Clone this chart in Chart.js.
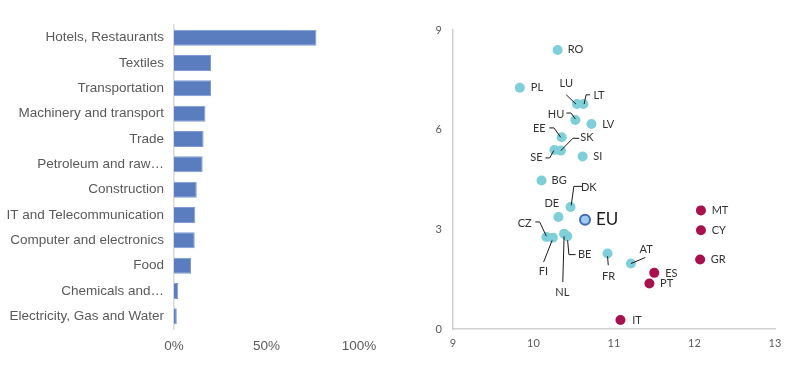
<!DOCTYPE html>
<html>
<head>
<meta charset="utf-8">
<script src="https://cdn.jsdelivr.net/npm/chart.js@4/dist/chart.umd.min.js"></script>
<style>
  html, body { margin: 0; padding: 0; background: #ffffff; }
  #wrap { position: relative; width: 800px; height: 392px; }
  #left { position: absolute; left: 0; top: 0; width: 400px; height: 392px; }
  #right { position: absolute; left: 400px; top: 0; width: 400px; height: 392px; }
</style>
</head>
<body>
<div id="wrap">
  <div id="left"><canvas id="barChart" width="400" height="392"></canvas></div>
  <div id="right"><canvas id="scatterChart" width="400" height="392"></canvas></div>
</div>
<script>
// ---------- Data: left bar chart ----------
const sectors = [
  "Hotels, Restaurants", "Textiles", "Transportation", "Machinery and transport",
  "Trade", "Petroleum and raw\u2026", "Construction", "IT and Telecommunication",
  "Computer and electronics", "Food", "Chemicals and\u2026", "Electricity, Gas and Water"
];
const sectorShares = [77, 20, 20, 17, 16, 15.5, 12.3, 11.5, 11.2, 9.2, 2.3, 1.5];
const barTicks = [0, 50, 100];

// ---------- Data: right scatter chart ----------
const tealCodes = ["RO", "PL", "LU", "LT", "HU", "LV", "EE", "SK", "SE", "SI", "BG", "DK", "DE", "CZ", "FI", "NL", "BE", "FR", "AT"];
const tealX = [10.30, 9.83, 10.54, 10.62, 10.52, 10.72, 10.35, 10.34, 10.26, 10.61, 10.10, 10.46, 10.31, 10.16, 10.24, 10.38, 10.42, 10.92, 11.21];
const tealY = [8.40, 7.26, 6.77, 6.77, 6.29, 6.17, 5.77, 5.37, 5.39, 5.19, 4.47, 3.67, 3.37, 2.77, 2.75, 2.87, 2.79, 2.27, 1.97];

const redCodes = ["ES", "PT", "IT", "MT", "CY", "GR"];
const redX = [11.50, 11.44, 11.08, 12.08, 12.08, 12.07];
const redY = [1.69, 1.37, 0.27, 3.57, 2.97, 2.09];

const euCodes = ["EU"];
const euX = [10.64];
const euY = [3.29];

const scatterXTicks = [9, 10, 11, 12, 13];
const scatterYTicks = [0, 3, 6, 9];

// ---------- Label layout (pixel offsets from the point; layout only) ----------
const labelLayout = {
  RO: { dx: 10, dy: 0, align: "left" },
  PL: { dx: 11, dy: 0, align: "left" },
  LU: { dx: -10.7, dy: -20.6, align: "center", leader: [[-10.7, -9.3], [-1, 0]] },
  LT: { dx: 10, dy: -8.3, align: "left", leader: [[6.7, -9.3], [2.7, -9.3], [0.7, 0]] },
  HU: { dx: -19.3, dy: -6, align: "center", leader: [[-9, -7], [-4.3, -7], [0, -1]] },
  LV: { dx: 10.7, dy: 0, align: "left" },
  EE: { dx: -22.4, dy: -8.4, align: "center", leader: [[-12.4, -9.4], [-7.7, -9.4], [-1, 0]] },
  SK: { dx: 19.3, dy: -12.7, align: "left", leader: [[18.3, -12.3], [12, -12.3], [0, 0]] },
  SE: { dx: -18, dy: 8, align: "center", leader: [[-9, 8], [-4.7, 8], [-0.7, 0.7]] },
  SI: { dx: 10.6, dy: 0, align: "left" },
  BG: { dx: 10, dy: 0, align: "left" },
  DK: { dx: 18.3, dy: -20, align: "center", leader: [[11.7, -20.7], [3.3, -20.7], [0.7, -1.7]] },
  DE: { dx: -6.6, dy: -13.4, align: "center" },
  EU: { dx: 11, dy: 0, align: "left", big: true },
  CZ: { dx: -21.7, dy: -14, align: "center", leader: [[-11, -15], [-6.7, -15], [0, -0.7]] },
  FI: { dx: -9.4, dy: 33.4, align: "center", leader: [[-9.2, 24.4], [-0.7, 2.7]] },
  NL: { dx: -1.7, dy: 58.4, align: "center", leader: [[-1.3, 48.4], [0, 2.7]] },
  BE: { dx: 10.6, dy: 18.3, align: "left", leader: [[8.3, 18.3], [1.6, 18.3], [0.3, 4]] },
  FR: { dx: 1, dy: 22.7, align: "center", leader: [[0.7, 11.7], [0, 2.7]] },
  AT: { dx: 15.3, dy: -14, align: "center", leader: [[14.3, -6], [0, 0]] },
  ES: { dx: 11, dy: 0.6, align: "left" },
  PT: { dx: 10.7, dy: 0, align: "left" },
  IT: { dx: 11.7, dy: 0, align: "left" },
  MT: { dx: 10.7, dy: 0, align: "left" },
  CY: { dx: 10.7, dy: 0, align: "left" },
  GR: { dx: 10.7, dy: 0, align: "left" }
};

// ---------- Left: horizontal bar chart ----------
new Chart(document.getElementById("barChart"), {
  type: "bar",
  data: {
    labels: sectors,
    datasets: [{
      data: sectorShares,
      backgroundColor: "#5a7dc0",
      borderColor: "#7f9dd4",
      borderWidth: 1,
      barPercentage: 0.63,
      categoryPercentage: 1.0
    }]
  },
  options: {
    indexAxis: "y",
    responsive: false,
    animation: false,
    layout: { padding: { top: 25, right: 41, left: 0, bottom: 0 } },
    plugins: { legend: { display: false }, tooltip: { enabled: false } },
    scales: {
      x: {
        min: 0, max: 100,
        afterBuildTicks: (s) => { s.ticks = barTicks.map(v => ({ value: v })); },
        afterFit: (s) => { s.height = 63; },
        grid: { display: false, drawTicks: false },
        border: { display: false },
        ticks: {
          callback: (v) => v + "%",
          color: "#595959",
          font: { family: "Liberation Sans", size: 13.5 },
          padding: 9,
          maxRotation: 0
        }
      },
      y: {
        afterFit: (s) => { s.width = 174; },
        grid: { display: false, drawTicks: false },
        border: { display: true, color: "#d9d9d9", width: 1.5 },
        ticks: {
          color: "#595959",
          font: { family: "Liberation Sans", size: 13.5 },
          padding: 10,
          autoSkip: false
        }
      }
    }
  }
});

// ---------- Right: scatter chart ----------
const labelPlugin = {
  id: "pointLabels",
  afterDatasetsDraw(chart) {
    const ctx = chart.ctx;
    ctx.save();
    chart.data.datasets.forEach((ds, di) => {
      const meta = chart.getDatasetMeta(di);
      meta.data.forEach((el, i) => {
        const code = ds.codes[i];
        const lay = labelLayout[code];
        if (!lay) return;
        const px = el.x, py = el.y;
        if (lay.leader) {
          ctx.beginPath();
          ctx.strokeStyle = "#1a1a1a";
          ctx.lineWidth = 1;
          lay.leader.forEach((p, k) => {
            if (k === 0) ctx.moveTo(px + p[0], py + p[1]);
            else ctx.lineTo(px + p[0], py + p[1]);
          });
          ctx.stroke();
        }
        ctx.fillStyle = lay.big ? "#1a1a1a" : "#333333";
        ctx.font = lay.big ? "17px Lato" : "11px Lato";
        ctx.textAlign = lay.align;
        ctx.textBaseline = "middle";
        ctx.fillText(code, px + lay.dx, py + lay.dy);
      });
    });
    ctx.restore();
  }
};

new Chart(document.getElementById("scatterChart"), {
  type: "scatter",
  data: {
    datasets: [
      {
        codes: tealCodes,
        data: tealX.map((x, i) => ({ x: x, y: tealY[i] })),
        backgroundColor: "#7ecfd9",
        borderColor: "#7ecfd9",
        pointRadius: 5,
        pointBorderWidth: 0
      },
      {
        codes: redCodes,
        data: redX.map((x, i) => ({ x: x, y: redY[i] })),
        backgroundColor: "#a8104e",
        borderColor: "#a8104e",
        pointRadius: 5,
        pointBorderWidth: 0
      },
      {
        codes: euCodes,
        data: euX.map((x, i) => ({ x: x, y: euY[i] })),
        backgroundColor: "#9ccbef",
        borderColor: "#4668b8",
        pointRadius: 5,
        pointBorderWidth: 2
      }
    ]
  },
  options: {
    responsive: false,
    animation: false,
    layout: { padding: { top: 30, right: 25, left: 0, bottom: 0 } },
    plugins: { legend: { display: false }, tooltip: { enabled: false } },
    scales: {
      x: {
        type: "linear",
        min: 9, max: 13,
        afterBuildTicks: (s) => { s.ticks = scatterXTicks.map(v => ({ value: v })); },
        afterFit: (s) => { s.height = 63; },
        grid: { display: false, drawTicks: false },
        border: { display: true, color: "#d0d0d0", width: 1.5 },
        ticks: { color: "#595959", font: { family: "Lato", size: 11 }, padding: 8, maxRotation: 0 }
      },
      y: {
        type: "linear",
        min: 0, max: 9,
        afterBuildTicks: (s) => { s.ticks = scatterYTicks.map(v => ({ value: v })); },
        afterFit: (s) => { s.width = 53; },
        grid: { display: false, drawTicks: false },
        border: { display: true, color: "#d0d0d0", width: 1.5 },
        ticks: { color: "#595959", font: { family: "Lato", size: 11 }, padding: 11 }
      }
    }
  },
  plugins: [labelPlugin]
});
</script>
</body>
</html>
